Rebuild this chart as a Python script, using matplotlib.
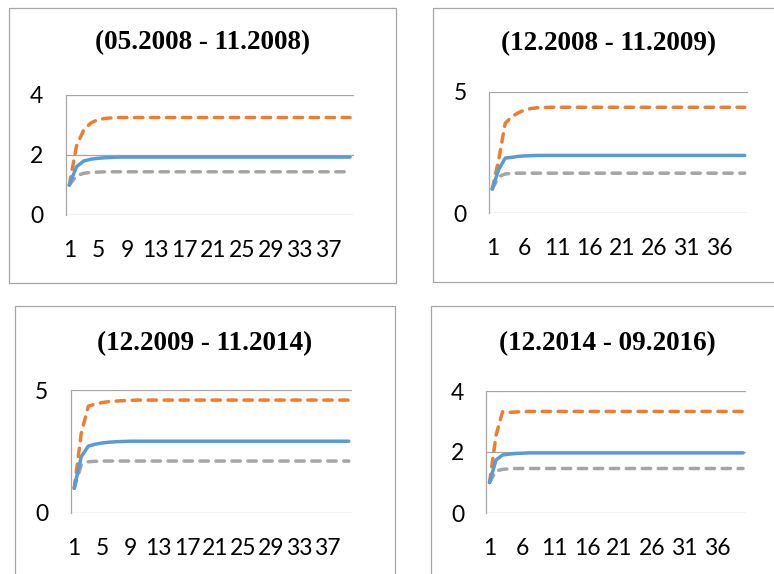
import matplotlib
matplotlib.use("Agg")
import matplotlib.pyplot as plt
from matplotlib.patches import Rectangle

W, H = 774, 574

# periods 1..40
periods = list(range(1, 41))

titles = ["(05.2008 - 11.2008)", "(12.2008 - 11.2009)",
          "(12.2009 - 11.2014)", "(12.2014 - 09.2016)"]

# panel 1
p1_blue = [1.0, 1.61, 1.80, 1.86, 1.89, 1.91, 1.92, 1.93, 1.93, 1.93,
           1.93, 1.93, 1.93, 1.93, 1.93, 1.93, 1.93, 1.93, 1.93, 1.93,
           1.93, 1.93, 1.93, 1.93, 1.93, 1.93, 1.93, 1.93, 1.93, 1.93,
           1.93, 1.93, 1.93, 1.93, 1.93, 1.93, 1.93, 1.93, 1.93, 1.93]
p1_orange = [1.0, 2.30, 2.83, 3.07, 3.18, 3.22, 3.24, 3.25, 3.25, 3.25,
             3.25, 3.25, 3.25, 3.25, 3.25, 3.25, 3.25, 3.25, 3.25, 3.25,
             3.25, 3.25, 3.25, 3.25, 3.25, 3.25, 3.25, 3.25, 3.25, 3.25,
             3.25, 3.25, 3.25, 3.25, 3.25, 3.25, 3.25, 3.25, 3.25, 3.25]
p1_grey = [1.0, 1.31, 1.39, 1.42, 1.43, 1.44, 1.44, 1.44, 1.44, 1.44,
           1.44, 1.44, 1.44, 1.44, 1.44, 1.44, 1.44, 1.44, 1.44, 1.44,
           1.44, 1.44, 1.44, 1.44, 1.44, 1.44, 1.44, 1.44, 1.44, 1.44,
           1.44, 1.44, 1.44, 1.44, 1.44, 1.44, 1.44, 1.44, 1.44, 1.44]

# panel 2
p2_blue = [1.0, 1.80, 2.27, 2.30, 2.34, 2.36, 2.37, 2.38, 2.38, 2.38,
           2.38, 2.38, 2.38, 2.38, 2.38, 2.38, 2.38, 2.38, 2.38, 2.38,
           2.38, 2.38, 2.38, 2.38, 2.38, 2.38, 2.38, 2.38, 2.38, 2.38,
           2.38, 2.38, 2.38, 2.38, 2.38, 2.38, 2.38, 2.38, 2.38, 2.38]
p2_orange = [1.0, 2.20, 3.70, 3.97, 4.13, 4.25, 4.31, 4.34, 4.35, 4.36,
             4.36, 4.36, 4.36, 4.36, 4.36, 4.36, 4.36, 4.36, 4.36, 4.36,
             4.36, 4.36, 4.36, 4.36, 4.36, 4.36, 4.36, 4.36, 4.36, 4.36,
             4.36, 4.36, 4.36, 4.36, 4.36, 4.36, 4.36, 4.36, 4.36, 4.36]
p2_grey = [1.0, 1.50, 1.62, 1.64, 1.65, 1.65, 1.65, 1.65, 1.65, 1.65,
           1.65, 1.65, 1.65, 1.65, 1.65, 1.65, 1.65, 1.65, 1.65, 1.65,
           1.65, 1.65, 1.65, 1.65, 1.65, 1.65, 1.65, 1.65, 1.65, 1.65,
           1.65, 1.65, 1.65, 1.65, 1.65, 1.65, 1.65, 1.65, 1.65, 1.65]

# panel 3
p3_blue = [1.0, 2.29, 2.72, 2.80, 2.85, 2.88, 2.90, 2.91, 2.92, 2.92,
           2.92, 2.92, 2.92, 2.92, 2.92, 2.92, 2.92, 2.92, 2.92, 2.92,
           2.92, 2.92, 2.92, 2.92, 2.92, 2.92, 2.92, 2.92, 2.92, 2.92,
           2.92, 2.92, 2.92, 2.92, 2.92, 2.92, 2.92, 2.92, 2.92, 2.92]
p3_orange = [1.0, 3.24, 4.35, 4.44, 4.50, 4.54, 4.56, 4.58, 4.59, 4.60,
             4.60, 4.60, 4.60, 4.60, 4.60, 4.60, 4.60, 4.60, 4.60, 4.60,
             4.60, 4.60, 4.60, 4.60, 4.60, 4.60, 4.60, 4.60, 4.60, 4.60,
             4.60, 4.60, 4.60, 4.60, 4.60, 4.60, 4.60, 4.60, 4.60, 4.60]
p3_grey = [1.0, 1.95, 2.08, 2.10, 2.11, 2.11, 2.11, 2.11, 2.11, 2.11,
           2.11, 2.11, 2.11, 2.11, 2.11, 2.11, 2.11, 2.11, 2.11, 2.11,
           2.11, 2.11, 2.11, 2.11, 2.11, 2.11, 2.11, 2.11, 2.11, 2.11,
           2.11, 2.11, 2.11, 2.11, 2.11, 2.11, 2.11, 2.11, 2.11, 2.11]

# panel 4
p4_blue = [1.0, 1.74, 1.90, 1.93, 1.95, 1.96, 1.97, 1.97, 1.97, 1.97,
           1.97, 1.97, 1.97, 1.97, 1.97, 1.97, 1.97, 1.97, 1.97, 1.97,
           1.97, 1.97, 1.97, 1.97, 1.97, 1.97, 1.97, 1.97, 1.97, 1.97,
           1.97, 1.97, 1.97, 1.97, 1.97, 1.97, 1.97, 1.97, 1.97, 1.97]
p4_orange = [1.0, 2.55, 3.32, 3.30, 3.31, 3.32, 3.33, 3.33, 3.33, 3.33,
             3.33, 3.33, 3.33, 3.33, 3.33, 3.33, 3.33, 3.33, 3.33, 3.33,
             3.33, 3.33, 3.33, 3.33, 3.33, 3.33, 3.33, 3.33, 3.33, 3.33,
             3.33, 3.33, 3.33, 3.33, 3.33, 3.33, 3.33, 3.33, 3.33, 3.33]
p4_grey = [1.0, 1.38, 1.43, 1.45, 1.46, 1.46, 1.46, 1.46, 1.46, 1.46,
           1.46, 1.46, 1.46, 1.46, 1.46, 1.46, 1.46, 1.46, 1.46, 1.46,
           1.46, 1.46, 1.46, 1.46, 1.46, 1.46, 1.46, 1.46, 1.46, 1.46,
           1.46, 1.46, 1.46, 1.46, 1.46, 1.46, 1.46, 1.46, 1.46, 1.46]

series = [(p1_blue, p1_orange, p1_grey), (p2_blue, p2_orange, p2_grey),
          (p3_blue, p3_orange, p3_grey), (p4_blue, p4_orange, p4_grey)]
ymax = [4, 5, 5, 4]
yticks = [[0, 2, 4], [0, 5], [0, 5], [0, 2, 4]]
xticks = [list(range(1, 41, 4)), list(range(1, 41, 5)),
          list(range(1, 41, 4)), list(range(1, 41, 5))]

# layout in pixels: frame (x0, y0, x1, y1), plot area (left, top, width, height), title pos
frames = [(9.3, 8.3, 395.7, 282.7), (433.3, 8.3, 790, 282.0),
          (15.0, 306.0, 395.0, 590), (430.7, 306.0, 790, 590)]
plots = [(65.7, 95.0, 288.0, 120.0), (489.0, 91.7, 259.0, 121.6),
         (70.7, 390.3, 281.6, 122.4), (486.3, 391.0, 260.0, 122.0)]
title_pos = [(202.3, 43.0), (608.7, 43.3), (205.0, 343.7), (607.0, 343.7)]

BLUE = "#5B9BD5"
ORANGE = "#ED7D31"
GREY = "#A5A5A5"
AXCOL = "#A6A6A6"
LW = 2.5

fig = plt.figure(figsize=(W / 100.0, H / 100.0), dpi=100)

for i in range(4):
    x0, y0, x1, y1 = frames[i]
    fig.patches.append(Rectangle((x0 / W, 1 - y1 / H), (x1 - x0) / W, (y1 - y0) / H,
                                 transform=fig.transFigure, fill=False,
                                 edgecolor=AXCOL, lw=0.9))

    l, t, w, h = plots[i]
    ax = fig.add_axes([l / W, 1 - (t + h) / H, w / W, h / H])
    blue, orange, grey = series[i]
    ax.plot(periods, grey, color=GREY, lw=LW, dashes=(2.4, 2.2),
            dash_capstyle="round", solid_capstyle="round", clip_on=False)
    ax.plot(periods, orange, color=ORANGE, lw=LW, dashes=(2.4, 2.2),
            dash_capstyle="round", solid_capstyle="round", clip_on=False)
    ax.plot(periods, blue, color=BLUE, lw=LW, solid_capstyle="round", clip_on=False)

    ax.set_xlim(0.5, 40.5)
    ax.set_ylim(0, ymax[i])
    ax.set_yticks(yticks[i])
    ax.set_xticks(xticks[i])
    ax.grid(axis="y", color=AXCOL, lw=0.9)
    ax.set_axisbelow(True)
    for s in ["top", "right", "bottom"]:
        ax.spines[s].set_visible(False)
    ax.spines["left"].set_color(AXCOL)
    ax.spines["left"].set_linewidth(0.9)
    ax.tick_params(axis="y", length=0, pad=16, labelsize=16.5)
    ax.tick_params(axis="x", length=0, pad=18, labelsize=16.5)
    for lab in ax.get_xticklabels() + ax.get_yticklabels():
        lab.set_fontfamily("Lato")

    tx, ty = title_pos[i]
    fig.text(tx / W, 1 - ty / H, titles[i], ha="center", va="center",
             fontsize=19.5, fontweight="bold", family="Liberation Serif")

fig.savefig("out.png", dpi=100)
